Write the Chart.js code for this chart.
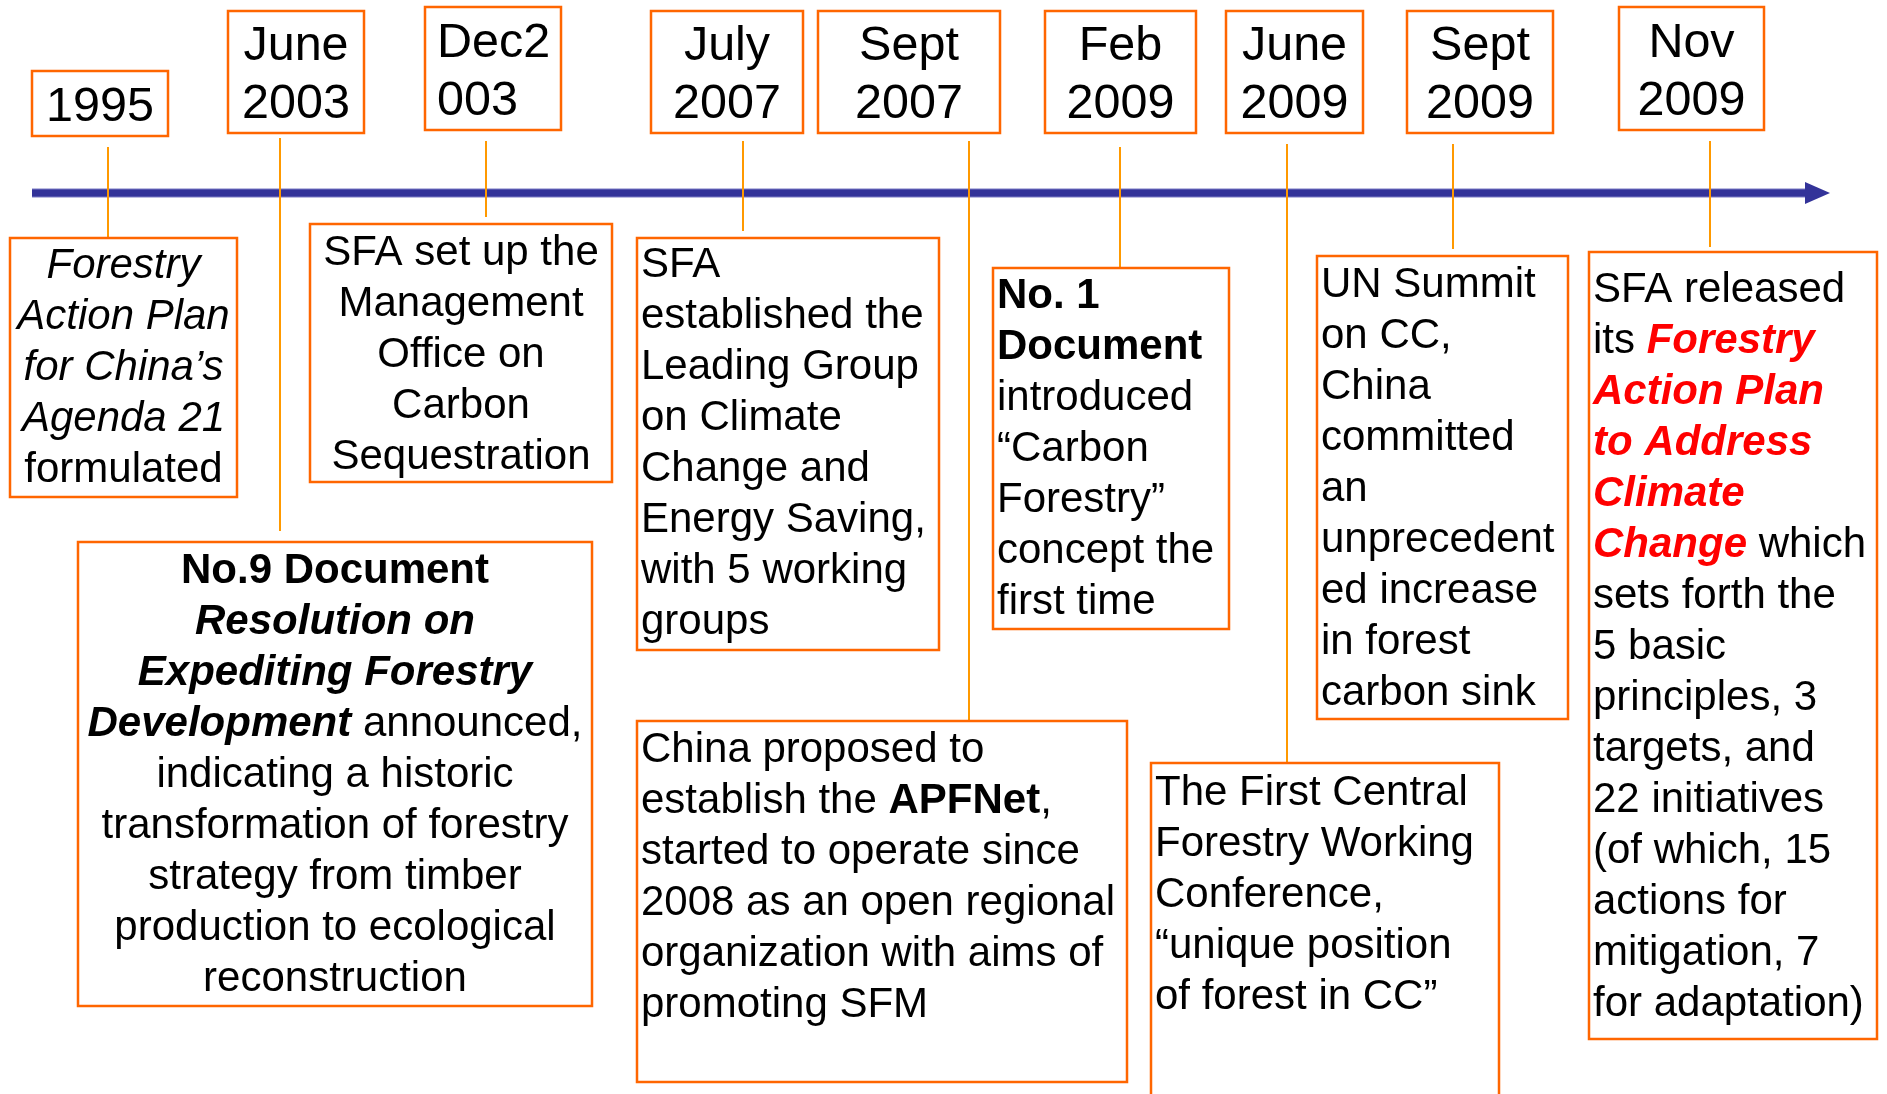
<!DOCTYPE html>
<html>
<head>
<meta charset="utf-8">
<title>Forestry and climate change timeline</title>
<script src="https://cdn.jsdelivr.net/npm/chart.js@4"></script>
<style>
  html, body { margin: 0; padding: 0; background: #fff; }
  #wrap { width: 1887px; height: 1094px; }
</style>
</head>
<body>
<div id="wrap"><canvas id="chart" width="1887" height="1094"></canvas></div>
<script>
'use strict';

// dates on the timeline (each entry = lines in the date box)
let dateLabels = [
  ['1995'],
  ['June', '2003'],
  ['Dec2', '003'],
  ['July', '2007'],
  ['Sept', '2007'],
  ['Feb', '2009'],
  ['June', '2009'],
  ['Sept', '2009'],
  ['Nov', '2009']
];

// event texts, markup: * bold, _ italic, ~ red
let event1995 = ['_Forestry_', '_Action Plan_', '_for China’s_', '_Agenda 21_', 'formulated'];
let eventJun2003 = ['*No.9 Document*', '*_Resolution on_*', '*_Expediting Forestry_*', '*_Development_* announced,',
  'indicating a historic', 'transformation of forestry', 'strategy from timber', 'production to ecological', 'reconstruction'];
let eventDec2003 = ['SFA set up the', 'Management', 'Office on', 'Carbon', 'Sequestration'];
let eventJul2007 = ['SFA', 'established the', 'Leading Group', 'on Climate', 'Change and', 'Energy Saving,', 'with 5 working', 'groups'];
let eventSep2007 = ['China proposed to', 'establish the *APFNet*,', 'started to operate since', '2008 as an open regional',
  'organization with aims of', 'promoting SFM'];
let eventFeb2009 = ['*No. 1*', '*Document*', 'introduced', '“Carbon', 'Forestry”', 'concept the', 'first time'];
let eventJun2009 = ['The First Central', 'Forestry Working', 'Conference,', '“unique position', 'of forest in CC”'];
let eventSep2009 = ['UN Summit', 'on CC,', 'China', 'committed', 'an', 'unprecedent', 'ed increase', 'in forest', 'carbon sink'];
let eventNov2009 = ['SFA released', 'its ~*_Forestry_*~', '~*_Action Plan_*~', '~*_to Address_*~', '~*_Climate_*~',
  '~*_Change_*~ which', 'sets forth the', '5 basic', 'principles, 3', 'targets, and', '22 initiatives',
  '(of which, 15', 'actions for', 'mitigation, 7', 'for adaptation)'];

let allEvents = [event1995, eventJun2003, eventDec2003, eventJul2007, eventSep2007, eventFeb2009, eventJun2009, eventSep2009, eventNov2009];

// layout (in scale units): box [x0, y0, x1, y1, align, first baseline, left pad]
let dateBoxes = [
  [32, 71, 168, 136, 'c', 121, 12],
  [228, 11, 364, 133, 'c', 60, 12],
  [425, 7, 561, 130, 'l', 57, 12],
  [651, 11, 803, 133, 'c', 60, 12],
  [818, 11, 1000, 133, 'c', 60, 12],
  [1045, 11, 1196, 133, 'c', 60, 12],
  [1226, 11, 1363, 133, 'c', 60, 12],
  [1407, 11, 1553, 133, 'c', 60, 12],
  [1619, 7, 1764, 130, 'c', 57, 12]
];
let eventBoxes = [
  [10, 238, 237, 497, 'c', 278, 5],
  [78, 542, 592, 1006, 'c', 583, 5],
  [310, 224, 612, 482, 'c', 265, 5],
  [637, 238, 939, 650, 'l', 277, 4],
  [637, 721, 1127, 1082, 'l', 762, 4],
  [993, 268, 1229, 629, 'l', 308, 4],
  [1151, 763, 1499, 1110, 'l', 805, 4],
  [1317, 256, 1568, 719, 'l', 297, 4],
  [1589, 252, 1877, 1039, 'l', 302, 4]
];
// connector [x, top, bottom]
let connectors = [
  [108, 147, 238], [280, 138, 531], [486, 141, 217], [743, 141, 231], [969, 141, 721],
  [1120, 147, 268], [1287, 144, 763], [1453, 144, 249], [1710, 141, 247]
];
let timelineY = 193;
let timelineStart = 32;
let timelineEnd = 1807;
let arrowTip = 1830;

let fontName = '"Liberation Sans", Arial, Helvetica, sans-serif';
let boxColor = '#FF6600';

function parseLine(str) {
  let runs = [];
  let b = false, it = false, red = false, cur = '';
  for (let ch of str) {
    if (ch === '*' || ch === '_' || ch === '~') {
      if (cur) runs.push({ t: cur, b: b, it: it, red: red });
      cur = '';
      if (ch === '*') b = !b;
      else if (ch === '_') it = !it;
      else red = !red;
    } else {
      cur += ch;
    }
  }
  if (cur) runs.push({ t: cur, b: b, it: it, red: red });
  return runs;
}

function runFont(run, size) {
  return (run.it ? 'italic ' : '') + (run.b ? 'bold ' : '') + size + 'px ' + fontName;
}

function drawBox(ctx, xs, ys, box, lines, size, lineH) {
  let x0 = xs.getPixelForValue(box[0]);
  let x1 = xs.getPixelForValue(box[2]);
  let y0 = ys.getPixelForValue(box[1]);
  let y1 = ys.getPixelForValue(box[3]);
  ctx.fillStyle = '#fff';
  ctx.fillRect(x0, y0, x1 - x0, y1 - y0);
  ctx.strokeStyle = boxColor;
  ctx.lineWidth = 2.5;
  ctx.strokeRect(x0, y0, x1 - x0, y1 - y0);

  ctx.textBaseline = 'alphabetic';
  ctx.textAlign = 'left';
  let base = ys.getPixelForValue(box[5]);
  for (let i = 0; i < lines.length; i++) {
    let runs = parseLine(lines[i]);
    let w = 0;
    for (let r of runs) {
      ctx.font = runFont(r, size);
      r.w = ctx.measureText(r.t).width;
      w += r.w;
    }
    let x = box[4] === 'c' ? (x0 + x1) / 2 - w / 2 : x0 + box[6];
    let y = base + i * lineH;
    for (let r of runs) {
      ctx.font = runFont(r, size);
      ctx.fillStyle = r.red ? '#FF0000' : '#000';
      ctx.fillText(r.t, x, y);
      x += r.w;
    }
  }
}

let boxPlugin = {
  id: 'timelineBoxes',
  afterDatasetsDraw(chart) {
    let ctx = chart.ctx;
    let xs = chart.scales.x;
    let ys = chart.scales.y;
    ctx.save();
    // arrow head
    ctx.fillStyle = '#333399';
    ctx.beginPath();
    ctx.moveTo(xs.getPixelForValue(timelineEnd - 2), ys.getPixelForValue(timelineY - 11));
    ctx.lineTo(xs.getPixelForValue(arrowTip), ys.getPixelForValue(timelineY));
    ctx.lineTo(xs.getPixelForValue(timelineEnd - 2), ys.getPixelForValue(timelineY + 11));
    ctx.closePath();
    ctx.fill();

    for (let i = 0; i < dateLabels.length; i++) {
      drawBox(ctx, xs, ys, dateBoxes[i], dateLabels[i], 48.5, 58);
    }
    for (let i = 0; i < allEvents.length; i++) {
      drawBox(ctx, xs, ys, eventBoxes[i], allEvents[i], 42, 51);
    }
    ctx.restore();
  }
};

let datasets = [];
datasets.push({
  label: 'timeline edge',
  data: [{ x: timelineStart, y: timelineY }, { x: timelineEnd, y: timelineY }],
  showLine: true,
  borderColor: '#7a7ac4',
  borderWidth: 9,
  pointRadius: 0,
  borderCapStyle: 'butt',
  order: 3
});
datasets.push({
  label: 'timeline',
  data: [{ x: timelineStart, y: timelineY }, { x: timelineEnd, y: timelineY }],
  showLine: true,
  borderColor: '#333399',
  borderWidth: 7,
  pointRadius: 0,
  borderCapStyle: 'butt',
  order: 2
});
for (let i = 0; i < connectors.length; i++) {
  let c = connectors[i];
  datasets.push({
    label: dateLabels[i].join(' '),
    data: [{ x: c[0], y: c[1] }, { x: c[0], y: c[2] }],
    showLine: true,
    borderColor: '#FF9900',
    borderWidth: 2,
    pointRadius: 0,
    order: 1
  });
}

let canvasElem = document.getElementById('chart');

new Chart(canvasElem, {
  type: 'scatter',
  data: { datasets: datasets },
  options: {
    responsive: false,
    animation: false,
    devicePixelRatio: 1,
    layout: { padding: 0 },
    plugins: {
      legend: { display: false },
      tooltip: { enabled: false }
    },
    scales: {
      x: { type: 'linear', min: 0, max: 1887, display: false },
      y: { type: 'linear', min: 0, max: 1094, reverse: true, display: false }
    }
  },
  plugins: [boxPlugin]
});
</script>
</body>
</html>
